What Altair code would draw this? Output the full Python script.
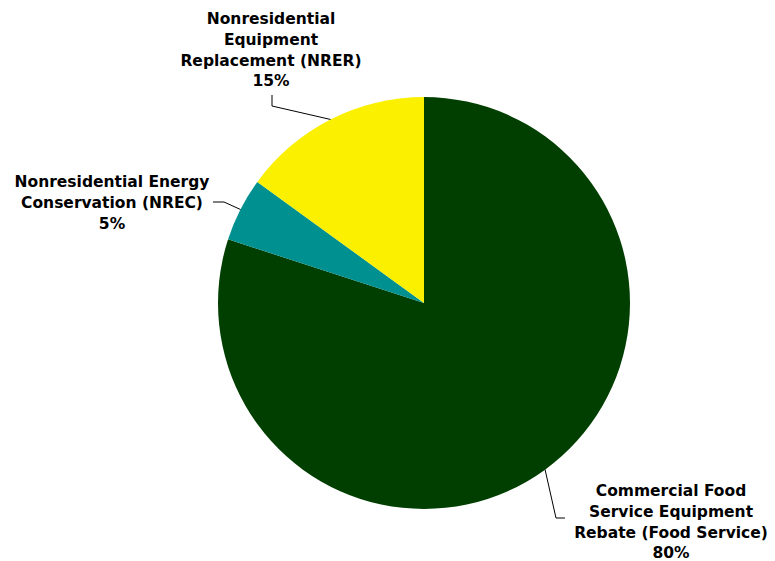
import altair as alt
import pandas as pd
import numpy as np

# ---- data ----
programs = [
    "Commercial Food Service Equipment Rebate (Food Service)",
    "Nonresidential Energy Conservation (NREC)",
    "Nonresidential Equipment Replacement (NRER)",
]
shares = [80, 5, 15]
label_lines = [
    ["Commercial Food", "Service Equipment", "Rebate (Food Service)"],
    ["Nonresidential Energy", "Conservation (NREC)"],
    ["Nonresidential", "Equipment", "Replacement (NRER)"],
]
colors = ["#003F00", "#009090", "#FAF000"]

# ---- layout (pixels) ----
CX, CY, R = 424, 303, 206
W, H = 775, 561
# label text anchor (center x, first baseline y), leader elbow and end
label_pos = [(671, 496), (112, 187), (271, 24)]
elbows = [(556, 518), (224, 202), (272, 106)]
ends = [(565, 518), (213, 202), (272, 95)]

df = pd.DataFrame({
    "program": programs,
    "share": shares,
    "idx": list(range(len(programs))),
})

# mid angles from data (clockwise from 12 o'clock)
tot = float(sum(shares))
cum = np.cumsum([0] + shares[:-1])
mid = [(c + s / 2) / tot * 2 * np.pi for c, s in zip(cum, shares)]

lab_df = pd.DataFrame({
    "label": ["\n".join(l + [f"{s}%"]) for l, s in zip(label_lines, shares)],
    "tx": [p[0] for p in label_pos],
    "ty": [p[1] for p in label_pos],
})

segs = []
for a, e, n in zip(mid, elbows, ends):
    sx = CX + R * np.sin(a)
    sy = CY - R * np.cos(a)
    segs.append({"x1": sx, "y1": sy, "x2": e[0], "y2": e[1]})
    segs.append({"x1": e[0], "y1": e[1], "x2": n[0], "y2": n[1]})
seg_df = pd.DataFrame(segs)

pie = alt.Chart(df).mark_arc(outerRadius=R).encode(
    theta=alt.Theta("share:Q", stack=True),
    color=alt.Color("program:N", scale=alt.Scale(domain=programs, range=colors), legend=None),
    order=alt.Order("idx:Q"),
    x=alt.value(CX),
    y=alt.value(CY),
)

leaders = alt.Chart(seg_df).mark_rule(color="black", strokeWidth=1).encode(
    x=alt.X("x1:Q", scale=None, axis=None),
    y=alt.Y("y1:Q", scale=None, axis=None),
    x2="x2:Q",
    y2="y2:Q",
)

labels = alt.Chart(lab_df).mark_text(
    font="DejaVu Sans", fontWeight="bold", fontSize=15.5, lineBreak="\n",
    lineHeight=20.8, align="center", baseline="alphabetic", color="black",
).encode(
    x=alt.X("tx:Q", scale=None, axis=None),
    y=alt.Y("ty:Q", scale=None, axis=None),
    text="label:N",
)

chart = alt.layer(pie, leaders, labels).properties(
    width=W, height=H, autosize="none", padding=0, background="white"
).configure_view(stroke=None)

chart.save("out.html", embed_options={"renderer": "svg", "actions": False})
